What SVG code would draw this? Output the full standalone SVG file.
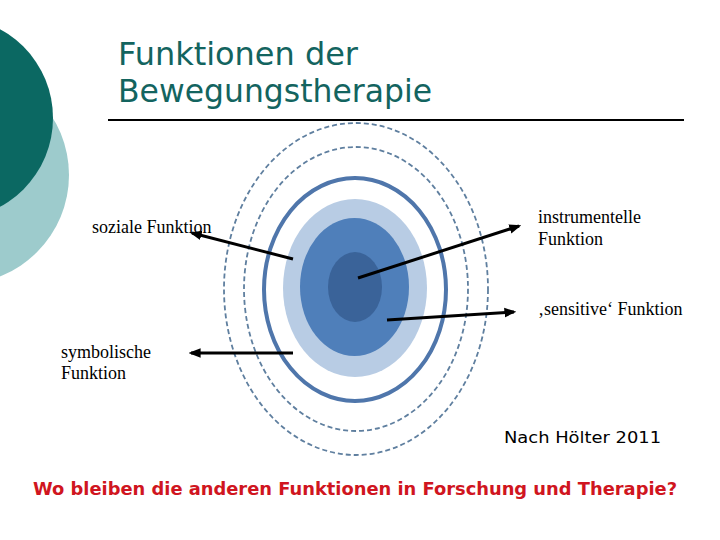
<svg xmlns="http://www.w3.org/2000/svg" width="720" height="540" viewBox="0 0 720 540">
<style>
.lbl{font-family:"Liberation Serif","Times New Roman",serif;font-size:18px;fill:#000}
.dash{fill:none;stroke:#5f7f9f;stroke-width:1.8;stroke-dasharray:5 3}
.conn{stroke:#000;stroke-width:3;fill:none}
</style>
<defs>
<marker id="ah" viewBox="0 0 10 10" refX="8" refY="5" markerWidth="4" markerHeight="4" orient="auto">
<path d="M0,1 L10,5 L0,9 z" fill="#000"/>
</marker>
</defs>
<rect width="720" height="540" fill="#fff"/>
<g id="deco">
<circle cx="-40" cy="175" r="109" fill="#9dcbcc"/>
<circle cx="-48" cy="118" r="101" fill="#0b6862"/>
</g>
<g id="title">
<text x="118" y="65" font-family="DejaVu Sans, Verdana, sans-serif" font-size="32" fill="#13645f" textLength="240" lengthAdjust="spacingAndGlyphs">Funktionen der</text>
<text x="118" y="102" font-family="DejaVu Sans, Verdana, sans-serif" font-size="32" fill="#13645f" textLength="314" lengthAdjust="spacingAndGlyphs">Bewegungstherapie</text>
<line x1="108" y1="120" x2="684" y2="120" stroke="#000" stroke-width="2"/>
</g>
<g id="target">
<ellipse class="dash" cx="356" cy="289" rx="132" ry="166"/>
<ellipse class="dash" cx="356" cy="289" rx="112" ry="142"/>
<ellipse cx="355" cy="289.5" rx="91" ry="111.5" fill="none" stroke="#4f76ab" stroke-width="4"/>
<ellipse cx="355" cy="288" rx="72" ry="89" fill="#b8cce4"/>
<ellipse cx="354.5" cy="287" rx="54.5" ry="69" fill="#4f7fba"/>
<ellipse cx="355" cy="287" rx="27" ry="35" fill="#3a6399"/>
</g>
<g id="connectors">
<line class="conn" x1="293" y1="259" x2="192" y2="233" marker-end="url(#ah)"/>
<line class="conn" x1="293" y1="353" x2="191" y2="353" marker-end="url(#ah)"/>
<line class="conn" x1="358" y1="278" x2="519" y2="226" marker-end="url(#ah)"/>
<line class="conn" x1="387" y1="320" x2="514" y2="312" marker-end="url(#ah)"/>
</g>
<g id="soziale"><text class="lbl" x="92" y="233">soziale Funktion</text></g>
<g id="instrumentelle"><text class="lbl" x="538" y="223">instrumentelle</text><text class="lbl" x="538" y="245">Funktion</text></g>
<g id="sensitive"><text class="lbl" x="538" y="315">‚sensitive‘ Funktion</text></g>
<g id="symbolische"><text class="lbl" x="61" y="358">symbolische</text><text class="lbl" x="61" y="379">Funktion</text></g>
<g id="source"><text x="504" y="443" font-family="DejaVu Sans, Verdana, sans-serif" font-size="16" fill="#000" textLength="157" lengthAdjust="spacingAndGlyphs">Nach Hölter 2011</text></g>
<g id="question"><text x="33" y="495" font-family="DejaVu Sans, Verdana, sans-serif" font-size="17.5" font-weight="bold" fill="#d01520" textLength="644" lengthAdjust="spacingAndGlyphs">Wo bleiben die anderen Funktionen in Forschung und Therapie?</text></g>
</svg>
